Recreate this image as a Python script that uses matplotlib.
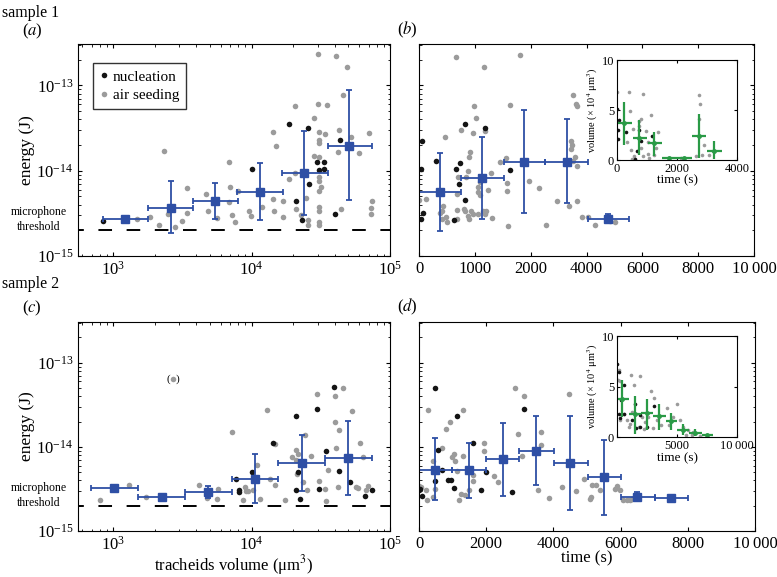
import numpy as np
import matplotlib
matplotlib.use('Agg')
import matplotlib.pyplot as plt

plt.rcParams['font.family'] = ['Liberation Serif', 'DejaVu Serif']
plt.rcParams['mathtext.fontset'] = 'stix'
plt.rcParams['xtick.direction'] = 'in'
plt.rcParams['ytick.direction'] = 'in'
plt.rcParams['xtick.top'] = True
plt.rcParams['ytick.right'] = True
plt.rcParams['axes.linewidth'] = 0.8

# ---------------- sample 1, (a) energy vs tracheid volume ----------------
a_nuc_x = [851, 10100, 18500, 20800, 25700, 23300, 25900, 29600, 30700, 33400, 33400, 43800, 40300]
a_nuc_y = [2.58e-15, 1.04e-14, 3.54e-14, 4.44e-15, 3.2e-14, 2.65e-15, 6.9e-15, 1.28e-14, 1.03e-14,
           1.26e-14, 1.05e-14, 2.3e-14, 3.09e-15]
a_air_x = [1480, 1850, 2160, 2350, 2490, 2810, 3140, 3410, 3420, 4690, 4880, 5600, 6850, 7000, 6850,
           7280, 7640, 7940, 9640, 9860, 12000, 14500, 14200, 14400, 15000, 16800, 17000, 18500, 20500,
           21000, 20700, 22700, 24800, 25600, 25700, 28100, 28200, 30400, 30400, 30700, 30600, 30900,
           30900, 30700, 30700, 30900, 31600, 30700, 30700, 30900, 30900, 34000, 35300, 40800, 42600,
           42400, 44500, 46000, 48900, 52000, 59700, 70100, 73800, 73000, 73000]
a_air_y = [2.7e-15, 2.83e-15, 2.32e-15, 1.72e-14, 3.09e-15, 2.21e-15, 2.6e-15, 3.15e-15, 6.2e-15,
           5.3e-15, 3.39e-15, 2.77e-15, 1.25e-14, 6.4e-15, 4.35e-15, 3.06e-15, 2.51e-15, 5.82e-15,
           3.33e-15, 2.96e-15, 3.77e-15, 3.33e-15, 4.64e-15, 2.85e-14, 1.93e-14, 4.44e-15, 2.88e-15,
           7.97e-15, 9.4e-15, 3.54e-15, 5.66e-14, 3.06e-15, 4.77e-15, 2.65e-15, 2.3e-15, 4.17e-14,
           1.49e-14, 2.3e-13, 6.08e-14, 2.83e-14, 2.3e-14, 2.13e-14, 1.44e-14, 8.36e-15, 7.63e-15,
           5.71e-15, 6.5e-15, 3.8e-15, 3.39e-15, 2.49e-15, 2.32e-15, 2.7e-14, 5.82e-14, 2.21e-13,
           3.0e-14, 1.66e-14, 3.54e-15, 7.63e-14, 1.64e-13, 2.47e-14, 1.6e-14, 2.77e-14, 4.44e-15,
           3.64e-15, 3.09e-15]
a_mx = [1220, 2610, 5440, 11500, 23900, 50600]
a_my = [2.7e-15, 3.7e-15, 4.44e-15, 5.66e-15, 9.4e-15, 1.97e-14]
a_xlo = [851, 1780, 3760, 7910, 16700, 35500]
a_xhi = [1800, 3800, 7940, 16800, 35500, 73800]
a_ylo = [2.6e-15, 1.88e-15, 2.7e-15, 2.63e-15, 3.0e-15, 4.52e-15]
a_yhi = [2.8e-15, 7.55e-15, 7.16e-15, 1.22e-14, 2.9e-14, 8.73e-14]

# ---------------- sample 1, (b) energy vs time ----------------
b_nuc_x = [30, 54, 30, 72, 311, 669, 729, 717, 622, 825, 825, 1183, 1626]
b_nuc_y = [1.05e-14, 2.25e-14, 2.7e-15, 3.15e-15, 1.29e-14, 1.05e-14, 1.23e-14, 6.97e-15, 2.63e-15,
           3.54e-14, 4.52e-15, 3.18e-14, 1.02e-14]
b_air_x = [669, 1166, 1817, 2761, 2809, 2821, 1626, 980, 1028, 747, 962, 466, 1178, 909, 897, 1447,
           1554, 1297, 879, 699, 837, 1973, 2152, 2714, 2732, 2714, 2750, 2791, 2821, 1578, 1578, 1237,
           1058, 1058, 1088, 1100, 681, 0, 120, 430, 406, 371, 490, 502, 418, 681, 801, 819, 938, 879,
           897, 968, 1058, 1148, 1178, 1195, 1315, 681, 1596, 2283, 2475, 2684, 2821, 2911, 3030, 3150,
           3419, 3509]
b_air_y = [2.15e-13, 1.64e-13, 2.25e-13, 7.63e-14, 5.97e-14, 5.66e-14, 5.93e-14, 5.66e-14, 4.13e-14,
           3.0e-14, 2.75e-14, 2.47e-14, 2.9e-14, 1.64e-14, 1.44e-14, 1.25e-14, 1.41e-14, 9.4e-15,
           9.8e-15, 8.36e-15, 8.36e-15, 7.63e-15, 6.25e-15, 2.25e-14, 2.02e-14, 1.8e-14, 1.31e-14,
           1.44e-14, 1.15e-14, 7.1e-15, 5.71e-15, 5.93e-15, 6.37e-15, 5.56e-15, 5.23e-15, 7.3e-15,
           5.31e-15, 4.52e-15, 4.6e-15, 3.87e-15, 3.38e-15, 3.23e-15, 2.88e-15, 2.53e-15, 2.7e-15,
           3.44e-15, 3.54e-15, 3.33e-15, 3.33e-15, 2.96e-15, 2.7e-15, 3.09e-15, 3.09e-15, 3.38e-15,
           3.09e-15, 3.33e-15, 2.77e-15, 2.7e-15, 2.25e-15, 2.32e-15, 4.44e-15, 3.87e-15, 4.44e-15,
           2.83e-15, 2.88e-15, 2.32e-15, 2.58e-15, 2.53e-15]
b_mx = [383, 1136, 1877, 2642, 3389]
b_my = [5.66e-15, 8.2e-15, 1.28e-14, 1.28e-14, 2.7e-15]
b_xlo = [0, 759, 1518, 2265, 3018]
b_xhi = [759, 1518, 2265, 3018, 3766]
b_ylo = [1.97e-15, 2.7e-15, 3.23e-15, 4.13e-15, 2.44e-15]
b_yhi = [1.61e-14, 2.47e-14, 5.18e-14, 3.98e-14, 3.09e-15]
b_ticklabels = ['0', '1000', '2000', '4000', '6000', '8000', '10\u2009000']

# inset of (b): volume vs time
bi_nuc_x = [0, 55, 22, 22, 298, 652, 740, 796, 1182, 608]
bi_nuc_y = [5.13, 4.0, 3.04, 2.15, 2.79, 0.9, 3.04, 1.92, 2.37, 0.06]
bi_air_x = [0, 387, 873, 431, 1149, 718, 796, 961, 2729, 2762, 2729, 1017, 796, 464, 497, 851, 1017,
            1293, 740, 519, 1072, 1238, 1370, 2840, 2895, 3061, 2122, 2619, 3194, 575, 320]
bi_air_y = [6.79, 6.79, 6.63, 4.87, 4.55, 3.94, 4.13, 2.95, 6.54, 5.61, 4.07, 1.83, 1.19, 0.96, 0.13,
            0.38, 0.61, 1.19, 3.43, 3.11, 0.16, 0.54, 2.79, 0.54, 1.51, 0.48, 0.22, 0.38, 0.87, 0.45, 1.83]
bi_mx = [243, 740, 1238, 1735, 2232, 2729, 3249]
bi_my = [3.69, 2.24, 1.67, 0.19, 0.19, 2.44, 0.93]
bi_xlo = [0, 519, 1017, 1514, 2011, 2508, 3006]
bi_xhi = [486, 994, 1492, 1989, 2486, 2972, 3503]
bi_ylo = [1.51, 0.54, 0.45, 0.19, 0.19, 0.16, 0.06]
bi_yhi = [5.77, 3.97, 2.85, 0.19, 0.19, 4.65, 1.89]

# ---------------- sample 2, (c) energy vs tracheid volume ----------------
c_nuc_x = [7720, 8070, 8070, 10100, 14200, 20800, 21500, 20800, 22400, 29900, 30900, 34300, 39400,
           43100, 51400, 65600, 73800]
c_nuc_y = [4.16e-15, 3.05e-15, 2.88e-15, 4.99e-15, 1.11e-14, 2.32e-14, 5.08e-15, 3.1e-15, 2.43e-15,
           2.86e-14, 3.19e-15, 8.87e-15, 5.13e-14, 5.23e-15, 3.86e-15, 2.59e-15, 3.05e-15]
c_air_x = [806, 1310, 1730, 4200, 4740, 5600, 5760, 7200, 8630, 8970, 9120, 9480, 10300, 10900, 11500,
           11000, 12900, 13500, 14800, 14800, 17500, 19500, 21100, 21500, 21000, 21200, 23400, 24300,
           25000, 26700, 29500, 30700, 34000, 34500, 35500, 40100, 40100, 40500, 42900, 41900, 45500,
           52800, 56800, 59100, 60700, 63500, 67100, 69000]
c_air_y = [2.36e-15, 3.5e-15, 2.51e-15, 3.5e-15, 2.47e-15, 2.43e-15, 3.19e-15, 1.51e-14, 2.36e-15,
           3.31e-15, 3.02e-15, 3.02e-15, 3.05e-15, 6.17e-15, 2.43e-15, 4.2e-15, 2.71e-14, 4.2e-15,
           3.5e-15, 1.07e-14, 2.36e-15, 7.53e-15, 9.12e-15, 8.26e-15, 7.06e-15, 4.8e-15, 3.83e-15,
           1.4e-14, 3.1e-15, 7.74e-15, 4.28e-14, 3.9e-15, 3.19e-15, 2.3e-15, 5.37e-15, 4.01e-14,
           1.97e-14, 9.73e-15, 1.61e-14, 3.34e-15, 5.04e-14, 2.66e-14, 3.34e-15, 3.25e-15, 1.12e-14,
           7.53e-15, 3.1e-15, 3.47e-15]
c_out_x = [2730]   # point shown in brackets
c_out_y = [6.33e-14]
c_mx = [1020, 2250, 4880, 10600, 23000, 50000]
c_my = [3.25e-15, 2.54e-15, 2.91e-15, 4.16e-15, 6.46e-15, 7.4e-15]
c_xlo = [693, 1510, 3310, 7200, 15600, 34000]
c_xhi = [1510, 3310, 7200, 15600, 34000, 73800]
c_ylo = [3.05e-15, 2.54e-15, 2.47e-15, 2.15e-15, 2.96e-15, 2.71e-15]
c_yhi = [3.5e-15, 2.54e-15, 3.4e-15, 8.18e-15, 1.4e-14, 2.05e-14]

# ---------------- sample 2, (d) energy vs time ----------------
d_nuc_x = [0, 40, 100, 478, 568, 468, 697, 867, 966, 1036, 1135, 1594, 1843, 1992, 2769, 3127]
d_nuc_y = [3.05e-15, 3.16e-15, 2.64e-15, 5.04e-14, 9.12e-15, 3.9e-15, 5.27e-15, 4.01e-15, 4.08e-15,
           3.25e-15, 2.36e-14, 1.12e-14, 3.05e-15, 5.04e-15, 2.88e-15, 2.83e-14]
d_air_x = [0, 70, 219, 249, 279, 418, 478, 418, 687, 817, 916, 996, 1036, 1076, 1116, 1195, 1235, 1315,
           1315, 1365, 1494, 1614, 1614, 1932, 1932, 2241, 2361, 2859, 3137, 2938, 3078, 3625, 3625,
           3526, 3874, 4253, 4452, 4681, 4900, 5149, 5279, 5398, 5120, 5080, 5847, 5896, 5996, 6076,
           6175, 6275, 6325]
d_air_y = [3.47e-15, 3.37e-15, 3.05e-15, 2.32e-15, 2.73e-14, 2.54e-15, 3.2e-15, 6.75e-15, 9.73e-15,
           1.64e-14, 1.97e-14, 7.53e-15, 8.26e-15, 6.75e-15, 5.23e-15, 2.36e-15, 2.75e-15, 2.71e-14,
           7.74e-15, 2.71e-15, 3.05e-15, 4.69e-15, 3.9e-15, 1.12e-14, 8.87e-15, 4.48e-15, 3.83e-15,
           5.04e-14, 4.01e-14, 1.43e-14, 7.88e-15, 1.51e-14, 1.05e-14, 3.05e-15, 2.47e-15, 3.31e-15,
           4.31e-14, 2.96e-15, 4.2e-15, 3.5e-15, 3.5e-15, 3.05e-15, 2.54e-15, 2.4e-15, 3.19e-15,
           3.4e-15, 3.05e-15, 2.32e-15, 2.32e-15, 2.32e-15, 2.43e-15]
d_mx = [478, 1494, 2490, 3486, 4502, 5498, 6494, 7510]
d_my = [5.37e-15, 5.27e-15, 7.2e-15, 8.87e-15, 6.46e-15, 4.4e-15, 2.54e-15, 2.5e-15]
d_xlo = [0, 996, 1992, 2988, 4004, 5020, 6016, 7012]
d_xhi = [996, 1992, 2988, 4004, 5020, 6016, 7012, 8008]
d_ylo = [2.32e-15, 2.47e-15, 2.64e-15, 3.5e-15, 1.8e-15, 1.56e-15, 2.26e-15, 2.5e-15]
d_yhi = [1.27e-14, 1.12e-14, 1.93e-14, 2.32e-14, 2.32e-14, 1.2e-14, 2.9e-15, 2.5e-15]

# inset of (d)
di_nuc_x = [0, 138, 331, 552, 138, 552, 1243, 1602, 1934, 1934, 2541, 3094, 1519, 221]
di_nuc_y = [7.28, 6.46, 3.64, 5.13, 2.32, 2.32, 1.66, 0.93, 2.15, 0.96, 0.99, 3.05, 3.25, 1.92]
di_air_x = [0, 60, 221, 138, 1160, 1934, 1381, 2845, 3122, 4144, 4696, 4972, 4337, 5525, 6354, 5746,
            6215, 6906, 5939, 3674, 3039, 2210, 1105, 829, 967, 608, 221, 2072, 2624, 1796, 3315, 1243,
            2348, 5249]
di_air_y = [5.63, 5.63, 5.56, 6.62, 6.19, 6.03, 5.13, 4.57, 3.91, 2.91, 1.99, 3.31, 1.16, 0.99, 0.5,
            0.17, 0.17, 0.1, 0.66, 1.23, 0.93, 0.83, 1.32, 1.66, 0.99, 2.32, 1.66, 1.99, 1.99, 0.99, 1.66,
            2.48, 1.49, 1.66]
di_mx = [414, 1464, 2486, 3536, 4475, 5470, 6492, 7459]
di_my = [3.81, 2.32, 2.42, 2.09, 1.59, 0.73, 0.43, 0.23]
di_xlo = [0, 967, 1989, 2983, 4088, 4972, 6022, 7044]
di_xhi = [967, 1989, 2983, 4088, 4972, 6022, 7044, 8011]
di_ylo = [1.99, 0.33, 0.66, 0.66, 0.66, 0.17, 0.07, 0.23]
di_yhi = [5.63, 4.04, 3.74, 3.31, 2.38, 1.32, 0.83, 0.23]

threshold = 2e-15

GRAY = '#9b9b9b'
BLACK = '#141414'
BLUE = '#2e4fa5'
GREEN = '#2a9a46'


def err(v, lo, hi):
    v, lo, hi = np.array(v), np.array(lo), np.array(hi)
    return [v - lo, hi - v]


def energy_panel(ax, nx, ny, ax_, ay, mx, my, xlo, xhi, ylo, yhi):
    ax.plot(ax_, ay, 'o', color=GRAY, ms=4, mec='none', label='air seeding')
    ax.plot(nx, ny, 'o', color=BLACK, ms=4, mec='none', label='nucleation')
    ax.errorbar(mx, my, xerr=err(mx, xlo, xhi), yerr=err(my, ylo, yhi), fmt='s', color=BLUE,
                ms=6, elinewidth=1.3, capsize=2.5, capthick=1.3)
    ax.set_yscale('log')
    ax.set_ylim(1e-15, 3.05e-13)
    ax.tick_params(labelsize=12, length=3)
    ax.tick_params(which='minor', length=1.8)


def inset(ax, nx, ny, ax_, ay, mx, my, xlo, xhi, ylo, yhi):
    ax.plot(ax_, ay, 'o', color=GRAY, ms=2.6, mec='none')
    ax.plot(nx, ny, 'o', color=BLACK, ms=2.6, mec='none')
    ax.errorbar(mx, my, xerr=err(mx, xlo, xhi), yerr=err(my, ylo, yhi), fmt='o', color=GREEN,
                ms=2.5, elinewidth=1.6, capsize=0)
    ax.set_ylim(0, 10)
    ax.set_yticks([0, 5, 10])
    ax.tick_params(labelsize=9, length=2, pad=2)
    ax.set_xlabel('time (s)', fontsize=9.5, labelpad=0)
    ax.set_ylabel('volume (\u00d7 10$^4$ μm$^3$)', fontsize=7.5, labelpad=1)


fig = plt.figure(figsize=(7.77, 5.77), dpi=100)

ax_a = fig.add_axes([0.1004, 0.5563, 0.4015, 0.3674])
ax_b = fig.add_axes([0.5393, 0.5563, 0.4311, 0.3674])
ax_c = fig.add_axes([0.1004, 0.0795, 0.4015, 0.3625])
ax_d = fig.add_axes([0.5393, 0.0795, 0.4324, 0.3625])

energy_panel(ax_a, a_nuc_x, a_nuc_y, a_air_x, a_air_y, a_mx, a_my, a_xlo, a_xhi, a_ylo, a_yhi)
energy_panel(ax_b, b_nuc_x, b_nuc_y, b_air_x, b_air_y, b_mx, b_my, b_xlo, b_xhi, b_ylo, b_yhi)
energy_panel(ax_c, c_nuc_x, c_nuc_y, c_air_x, c_air_y, c_mx, c_my, c_xlo, c_xhi, c_ylo, c_yhi)
energy_panel(ax_d, d_nuc_x, d_nuc_y, d_air_x, d_air_y, d_mx, d_my, d_xlo, d_xhi, d_ylo, d_yhi)

# bracketed outlier in (c)
ax_c.plot(c_out_x, c_out_y, 'o', color=GRAY, ms=4, mec='none')
ax_c.text(c_out_x[0], c_out_y[0], '(  )', ha='center', va='center', fontsize=8)

for ax in (ax_a, ax_c):
    ax.set_xscale('log')
    ax.set_xlim(558, 1e5)
    ax.set_ylabel('energy (J)', fontsize=12.5, labelpad=1)
    ax.axhline(threshold, color='k', lw=1.4, ls=(4, (7, 7.5)))
    ax.text(-0.125, 0.172, 'microphone\nthreshold', transform=ax.transAxes, ha='center',
            va='center', fontsize=8.5, linespacing=1.3)

for ax in (ax_b, ax_d):
    ax.tick_params(labelleft=False)

ax_b.set_xlim(0, 6000)
ax_b.set_xticks(np.arange(0, 6001, 1000))
ax_b.set_xticklabels(b_ticklabels)

ax_d.set_xlim(0, 10000)
ax_d.set_xticks(np.arange(0, 10001, 2000))
ax_d.set_xticklabels(['0', '2000', '4000', '6000', '8000', '10\u2009000'])

ax_c.set_xlabel('tracheids volume (μm$^3$)', fontsize=12, labelpad=-1)
ax_d.set_xlabel('time (s)', fontsize=12, labelpad=-1)

h, l = ax_a.get_legend_handles_labels()
ax_a.legend(h[::-1], l[::-1], loc='upper left', bbox_to_anchor=(0.048, 0.91), borderaxespad=0,
            fontsize=11, frameon=True, fancybox=False, edgecolor='#333333', framealpha=1,
            handlelength=0.5, handletextpad=0.35, borderpad=0.45, labelspacing=0.3)

axi_b = fig.add_axes([0.7941, 0.7227, 0.1544, 0.1733])
inset(axi_b, bi_nuc_x, bi_nuc_y, bi_air_x, bi_air_y, bi_mx, bi_my, bi_xlo, bi_xhi, bi_ylo, bi_yhi)
axi_b.set_xlim(0, 4000)
axi_b.set_xticks([0, 2000, 4000])

axi_d = fig.add_axes([0.7941, 0.2426, 0.1544, 0.1750])
inset(axi_d, di_nuc_x, di_nuc_y, di_air_x, di_air_y, di_mx, di_my, di_xlo, di_xhi, di_ylo, di_yhi)
axi_d.set_xlim(0, 10000)
axi_d.set_xticks([0, 5000, 10000])
axi_d.set_xticklabels(['', '5000', '10\u2009000'])

fig.text(0.003, 0.991, 'sample 1', fontsize=11.5, va='top')
fig.text(0.028, 0.946, r'($\mathit{a}$)', fontsize=12, va='center')
fig.text(0.511, 0.948, r'($\mathit{b}$)', fontsize=12, va='center')
fig.text(0.003, 0.508, 'sample 2', fontsize=11.5, va='center')
fig.text(0.028, 0.466, r'($\mathit{c}$)', fontsize=12, va='center')
fig.text(0.511, 0.468, r'($\mathit{d}$)', fontsize=12, va='center')

fig.savefig('out.png', dpi=100)
